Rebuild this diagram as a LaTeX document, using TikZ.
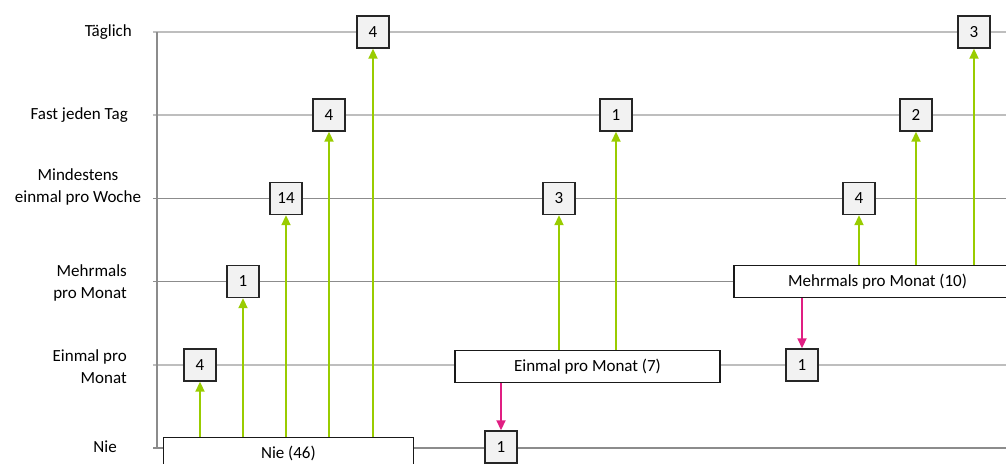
\documentclass[tikz,border=0pt]{standalone}
\usepackage{fontspec}
\setmainfont{Carlito}
\usetikzlibrary{arrows.meta}
\definecolor{lime}{RGB}{153,204,0}
\definecolor{magenta2}{RGB}{224,30,130}
\definecolor{gridlight}{RGB}{190,190,190}
\definecolor{griddark}{RGB}{140,140,140}
\definecolor{boxfill}{RGB}{242,242,242}
\tikzset{
  txt/.style={font=\fontsize{17}{21.5}\selectfont},
  numbox/.style={txt, draw=black!85, line width=1.4pt, fill=boxfill, minimum width=32pt, minimum height=32pt, inner sep=0pt},
  catbox/.style={txt, draw=black!90, line width=1.4pt, fill=white, minimum height=32pt, inner sep=0pt},
  garrow/.style={draw=lime, line width=2pt, -{Triangle[width=9pt,length=10pt]}},
  parrow/.style={draw=magenta2, line width=1.8pt, -{Triangle[width=9pt,length=10pt]}},
  gline/.style={line width=1.5pt},
  rowlabel/.style={txt, inner sep=0pt, anchor=east, align=right}
}
\begin{document}
\begin{tikzpicture}[x=1pt,y=-1pt]
\useasboundingbox (0,0) rectangle (1006,463);
\clip (0,0) rectangle (1006,463);
% grid lines
\draw[gline, gridlight] (153,32) -- (1006,32);
\draw[gline, gridlight] (153,115) -- (1006,115);
\draw[gline, griddark] (153,198.5) -- (1006,198.5);
\draw[gline, griddark] (153,281.5) -- (1006,281.5);
\draw[gline, gridlight] (153,365) -- (1006,365);
\draw[gline, griddark] (153,448) -- (1006,448);
\draw[gline, griddark] (157,32) -- (157,448);
% row labels
\node[rowlabel] (lt) at (132,32) {Täglich};
\node[rowlabel] (lf) at (128,115) {Fast jeden Tag};
\node[txt, inner sep=0pt, align=center] (lm) at (78,187) {Mindestens\\einmal pro Woche};
\node[rowlabel] (lmp) at (127,283) {Mehrmals\\pro Monat};
\node[rowlabel] (lep) at (127,366.5) {Einmal pro\\Monat};
\node[rowlabel] (ln) at (117,447) {Nie};
% category boxes
\node[catbox, minimum width=250pt] (nie) at (288.4,453.3) {Nie (46)};
\node[catbox, minimum width=265pt] (ein) at (587.5,366.5) {Einmal pro Monat (7)};
\node[catbox, minimum width=287pt] (meh) at (877.6,281.5) {Mehrmals pro Monat (10)};
% number boxes
\node[numbox] (t4) at (373,32) {4};
\node[numbox] (f4) at (329,115) {4};
\node[numbox] (m14) at (286,198.5) {14};
\node[numbox] (mp1) at (243,281.5) {1};
\node[numbox] (e4) at (200,365) {4};
\node[numbox] (n1) at (501,447) {1};
\node[numbox] (e1) at (802,365) {1};
\node[numbox] (m3) at (559,198.5) {3};
\node[numbox] (f1) at (616,115) {1};
\node[numbox] (m4) at (859,198.5) {4};
\node[numbox] (f2) at (916,115) {2};
\node[numbox] (t3) at (974,32) {3};
% green arrows
\draw[garrow] (nie.north -| e4.south) -- (e4.south);
\draw[garrow] (nie.north -| mp1.south) -- (mp1.south);
\draw[garrow] (nie.north -| m14.south) -- (m14.south);
\draw[garrow] (nie.north -| f4.south) -- (f4.south);
\draw[garrow] (nie.north -| t4.south) -- (t4.south);
\draw[garrow] (ein.north -| m3.south) -- (m3.south);
\draw[garrow] (ein.north -| f1.south) -- (f1.south);
\draw[garrow] (meh.north -| m4.south) -- (m4.south);
\draw[garrow] (meh.north -| f2.south) -- (f2.south);
\draw[garrow] (meh.north -| t3.south) -- (t3.south);
% pink arrows
\draw[parrow] (ein.south -| n1.north) -- (n1.north);
\draw[parrow] (meh.south -| e1.north) -- (e1.north);
\end{tikzpicture}
\end{document}
